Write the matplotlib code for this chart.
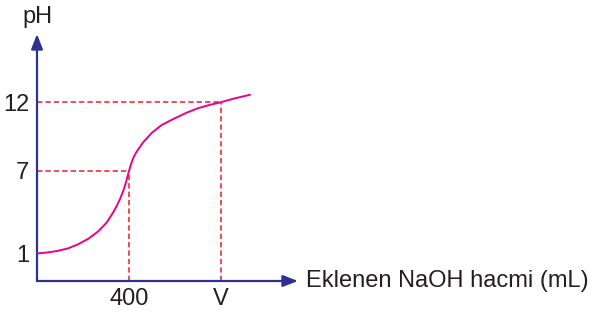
import matplotlib
matplotlib.use("Agg")
import matplotlib.pyplot as plt

plt.rcParams['font.family'] = ['Liberation Sans', 'DejaVu Sans']

# Data
volume_ml = [0, 49, 93, 136, 180, 223, 267, 303, 332, 348, 362, 374, 384, 392, 400,
             409, 420, 433, 462, 499, 542, 593, 651, 701, 750, 800, 853, 926]
ph_values = [1.0, 1.08, 1.2, 1.38, 1.68, 2.07, 2.62, 3.25, 4.0, 4.5, 5.0, 5.5, 6.0,
             6.5, 7.0, 7.5, 8.0, 8.4, 9.09, 9.77, 10.34, 10.78, 11.24, 11.57, 11.8,
             12.0, 12.25, 12.54]
eq_volume = 400
v_volume = 800
eq_ph = 7
v_ph = 12
y_ticks = [1, 7, 12]
y_tick_labels = ["1", "7", "12"]
x_ticks = [eq_volume, v_volume]
x_tick_labels = ["400", "V"]

AXIS = "#2e3192"
CURVE = "#ec008c"
DASH = "#ed1c24"
TEXT = "#231f20"
FS = 17

fig = plt.figure(figsize=(5.94, 3.14), dpi=100)
ax = fig.add_axes([37/594, 1 - 281/314, (298 - 37)/594, (281 - 34)/314])
ax.set_xlim(0, 1135)
ax.set_ylim(-1.0, 16.96)
for s in ax.spines.values():
    s.set_visible(False)

# axes arrows
ax.annotate("", xy=(1, 0), xycoords="axes fraction", xytext=(0, 0),
            arrowprops=dict(arrowstyle="-|>,head_length=0.9,head_width=0.35",
                            color=AXIS, lw=1.6, shrinkA=0, shrinkB=0))
ax.annotate("", xy=(0, 1), xycoords="axes fraction", xytext=(0, 0),
            arrowprops=dict(arrowstyle="-|>,head_length=0.9,head_width=0.35",
                            color=AXIS, lw=1.6, shrinkA=0, shrinkB=0))

# dashed guide lines
dash_kw = dict(color=DASH, lw=1.1, ls=(0, (3.5, 2)))
ax.plot([0, eq_volume], [eq_ph, eq_ph], **dash_kw)
ax.plot([eq_volume, eq_volume], [-1.0, eq_ph], **dash_kw)
ax.plot([0, v_volume], [v_ph, v_ph], **dash_kw)
ax.plot([v_volume, v_volume], [-1.0, v_ph], **dash_kw)

# titration curve
ax.plot(volume_ml, ph_values, color=CURVE, lw=1.4, solid_capstyle="round",
        solid_joinstyle="round", zorder=3)

ax.set_yticks(y_ticks)
ax.set_yticklabels(y_tick_labels)
ax.set_xticks(x_ticks)
ax.set_xticklabels(x_tick_labels)
ax.tick_params(axis="both", length=0, labelsize=FS, colors=TEXT)
ax.tick_params(axis="y", pad=5.5)
ax.tick_params(axis="x", pad=5)

fig.text(38/594, 1 - 17/314, "pH", ha="center", va="center", fontsize=FS, color=TEXT)
fig.text(306/594, 1 - 281/314, "Eklenen NaOH hacmi (mL)", ha="left", va="center",
         fontsize=FS, color=TEXT)

fig.savefig("out.png", dpi=100)
